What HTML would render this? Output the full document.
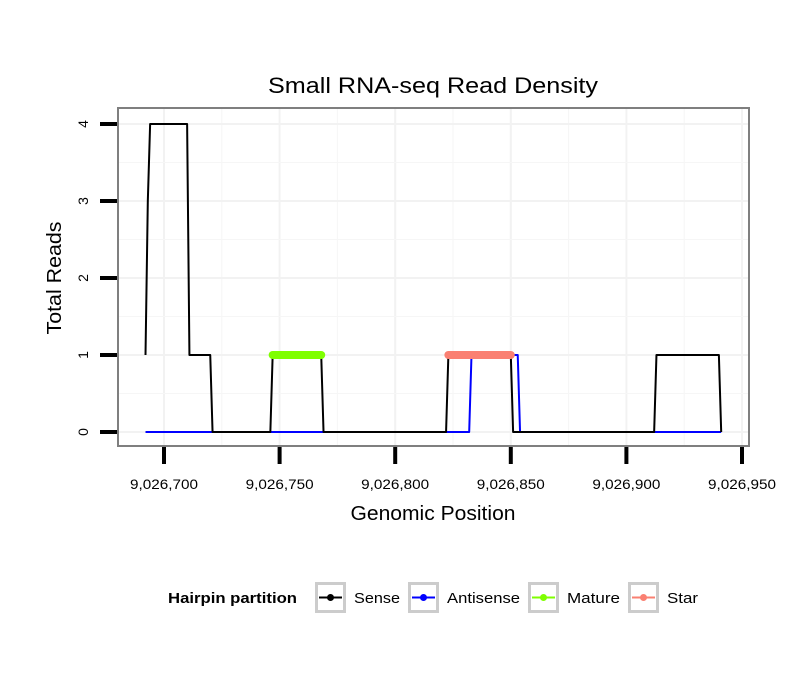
<!DOCTYPE html>
<html><head><meta charset="utf-8"><style>
body{margin:0;background:#fff;font-family:"Liberation Sans",sans-serif}
svg text{font-family:"Liberation Sans",sans-serif}
</style></head><body>
<svg width="810" height="690">
<rect width="810" height="690" fill="#fff"/>
<text x="433" y="93" font-size="22" text-anchor="middle" textLength="330" lengthAdjust="spacingAndGlyphs">Small RNA-seq Read Density</text>
<g id="grid"></g>
<g id="series"></g>
<rect x="118" y="108" width="631" height="338" fill="none" stroke="#7f7f7f" stroke-width="2"/>
<g id="axes"></g>
<text x="433" y="520" font-size="20" text-anchor="middle" textLength="165" lengthAdjust="spacingAndGlyphs">Genomic Position</text>
<text transform="translate(61,278) rotate(-90)" font-size="20" text-anchor="middle" textLength="113" lengthAdjust="spacingAndGlyphs">Total Reads</text>
<g id="legend">
<text x="168" y="603" font-size="15" font-weight="bold" textLength="129" lengthAdjust="spacingAndGlyphs">Hairpin partition</text>
</g>
</svg>
<script>
const xTicks=[9026700,9026750,9026800,9026850,9026900,9026950];
const xTickLabels=["9,026,700","9,026,750","9,026,800","9,026,850","9,026,900","9,026,950"];
const yTicks=[0,1,2,3,4];
const senseStarts=[9026692,9026693,9026694,9026711,9026721,9026747,9026769,9026823,9026851,9026913,9026941];
const senseVals=[1,3,4,1,0,1,0,1,0,1,0];
const antiStarts=[9026692,9026833,9026854];
const antiVals=[0,1,0];
const matureStarts=[9026747];
const matureEnds=[9026768];
const starStarts=[9026823];
const starEnds=[9026850];
const xEnd=9026941;
const NS="http://www.w3.org/2000/svg";
const xs=v=>164+(v-9026700)*(115.6/50);
const ys=v=>432-v*77;
function mk(tag,attrs,parent){const e=document.createElementNS(NS,tag);for(const k in attrs)e.setAttribute(k,attrs[k]);parent.appendChild(e);return e;}
const grid=document.getElementById('grid'),axes=document.getElementById('axes'),ser=document.getElementById('series');
for(let i=0;i<xTicks.length;i++){
 const x=xs(xTicks[i]);
 if(x<749){const l=mk('line',{x1:x,x2:x,y1:108,y2:446,stroke:'#f2f2f2','stroke-width':2},grid);
 }
 const xm=xs(xTicks[i]-25);
 if(xm>118&&xm<749){const l=mk('line',{x1:xm,x2:xm,y1:108,y2:446,stroke:'#f6f6f6','stroke-width':1},grid);
 }
 const t=mk('line',{x1:x,x2:x,y1:447,y2:464,stroke:'#000','stroke-width':4},axes);
 
 const tx=mk('text',{x:x,y:489,'font-size':14,'text-anchor':'middle',textLength:68,lengthAdjust:'spacingAndGlyphs'},axes);tx.textContent=xTickLabels[i];
 
}
for(let i=0;i<yTicks.length;i++){
 const y=ys(yTicks[i]);
 const l=mk('line',{x1:118,x2:749,y1:y,y2:y,stroke:'#f2f2f2','stroke-width':2},grid);
 
 if(i<yTicks.length-1){const ym=ys(yTicks[i]+0.5);const m=mk('line',{x1:118,x2:749,y1:ym,y2:ym,stroke:'#f6f6f6','stroke-width':1},grid);
 }
 const t=mk('line',{x1:100,x2:117,y1:y,y2:y,stroke:'#000','stroke-width':4},axes);
 
 const tx=mk('text',{transform:`translate(88,${y}) rotate(-90)`,'font-size':14,'text-anchor':'middle'},axes);tx.textContent=yTicks[i];
 
}
function expand(starts,vals,end){const pts=[];for(let k=0;k<starts.length;k++){const s=starts[k],e=k+1<starts.length?starts[k+1]-1:end;for(let p=s;p<=e;p++)pts.push([p,vals[k]]);}return pts;}
function poly(pts,color,w,name){const p=mk('polyline',{points:pts.map(q=>xs(q[0])+','+ys(q[1])).join(' '),fill:'none',stroke:color,'stroke-width':w,'stroke-linejoin':'round'},ser);
 }
poly(expand(antiStarts,antiVals,xEnd),'#0000ff',2,'antisense-line');
poly(expand(senseStarts,senseVals,xEnd),'#000',2,'sense-line');
for(let k=0;k<matureStarts.length;k++){const p=mk('line',{x1:xs(matureStarts[k]),x2:xs(matureEnds[k]),y1:ys(1),y2:ys(1),stroke:'#7fff00','stroke-width':8,'stroke-linecap':'round'},ser);
 }
for(let k=0;k<starStarts.length;k++){const p=mk('line',{x1:xs(starStarts[k]),x2:xs(starEnds[k]),y1:ys(1),y2:ys(1),stroke:'#fa8072','stroke-width':8,'stroke-linecap':'round'},ser);
 }
const legNames=["Sense","Antisense","Mature","Star"];
const legColors=["#000","#0000ff","#7fff00","#fa8072"];
const legX=[315,408,528,628];
const legW=[46,73,53,31];
const leg=document.getElementById('legend');
for(let i=0;i<legNames.length;i++){
 const g=mk('g',{},leg);
 mk('rect',{x:legX[i]+1.5,y:583.5,width:28,height:28,fill:'#fff',stroke:'#cccccc','stroke-width':3},g);
 mk('line',{x1:legX[i]+4,x2:legX[i]+27,y1:597.5,y2:597.5,stroke:legColors[i],'stroke-width':2},g);
 mk('circle',{cx:legX[i]+15.5,cy:597.5,r:3.5,fill:legColors[i]},g);
 const t=mk('text',{x:legX[i]+39,y:603,'font-size':15,textLength:legW[i],lengthAdjust:'spacingAndGlyphs'},g);t.textContent=legNames[i];
}
</script>
</body></html>
